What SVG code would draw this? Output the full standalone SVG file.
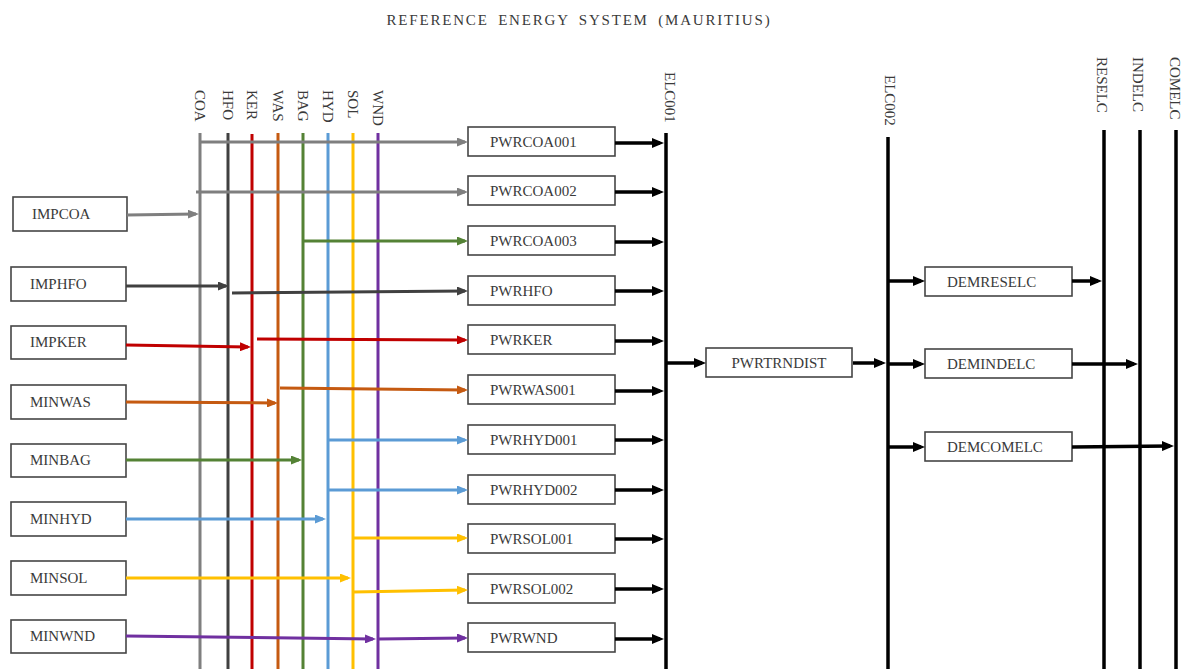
<svg xmlns="http://www.w3.org/2000/svg" width="1184" height="669" viewBox="0 0 1184 669">
<style>
  text { font-family: "Liberation Serif", "Times New Roman", serif; font-size: 15px; fill: #3a3a3a; }
  .title { font-size: 15px; letter-spacing: 1.8px; word-spacing: 4px; }
  .box { fill: #fff; stroke: #454545; stroke-width: 1.6; }
  .bus { stroke-width: 3; fill: none; }
  .kbus { stroke: #000; stroke-width: 3.5; fill: none; }
  .c { stroke-width: 3; fill: none; }
  .k { stroke: #000; stroke-width: 3.5; fill: none; marker-end: url(#ak); }
  .coa { stroke: #7f7f7f; } .hfo { stroke: #404040; } .ker { stroke: #c00000; } .was { stroke: #c55a11; }
  .bag { stroke: #548235; } .hyd { stroke: #5b9bd5; } .sol { stroke: #ffc000; } .wnd { stroke: #7030a0; }
</style>
<defs>
  <marker id="ak" markerUnits="userSpaceOnUse" markerWidth="12" markerHeight="10" refX="8" refY="5" orient="auto"><path d="M0,0 L12,5 L0,10 z" fill="#000"/></marker>
  <marker id="acoa" markerUnits="userSpaceOnUse" markerWidth="11" markerHeight="9" refX="8" refY="4.5" orient="auto"><path d="M0,0 L11,4.5 L0,9 z" fill="#7f7f7f"/></marker>
  <marker id="ahfo" markerUnits="userSpaceOnUse" markerWidth="11" markerHeight="9" refX="8" refY="4.5" orient="auto"><path d="M0,0 L11,4.5 L0,9 z" fill="#404040"/></marker>
  <marker id="aker" markerUnits="userSpaceOnUse" markerWidth="11" markerHeight="9" refX="8" refY="4.5" orient="auto"><path d="M0,0 L11,4.5 L0,9 z" fill="#c00000"/></marker>
  <marker id="awas" markerUnits="userSpaceOnUse" markerWidth="11" markerHeight="9" refX="8" refY="4.5" orient="auto"><path d="M0,0 L11,4.5 L0,9 z" fill="#c55a11"/></marker>
  <marker id="abag" markerUnits="userSpaceOnUse" markerWidth="11" markerHeight="9" refX="8" refY="4.5" orient="auto"><path d="M0,0 L11,4.5 L0,9 z" fill="#548235"/></marker>
  <marker id="ahyd" markerUnits="userSpaceOnUse" markerWidth="11" markerHeight="9" refX="8" refY="4.5" orient="auto"><path d="M0,0 L11,4.5 L0,9 z" fill="#5b9bd5"/></marker>
  <marker id="asol" markerUnits="userSpaceOnUse" markerWidth="11" markerHeight="9" refX="8" refY="4.5" orient="auto"><path d="M0,0 L11,4.5 L0,9 z" fill="#ffc000"/></marker>
  <marker id="awnd" markerUnits="userSpaceOnUse" markerWidth="11" markerHeight="9" refX="8" refY="4.5" orient="auto"><path d="M0,0 L11,4.5 L0,9 z" fill="#7030a0"/></marker>
</defs>
<rect width="1184" height="669" fill="#fff"/>
<text class="title" x="579" y="25" text-anchor="middle">REFERENCE  ENERGY  SYSTEM  (MAURITIUS)</text>

<!-- commodity buses -->
<g id="bus-COA"><line class="bus coa" x1="200" y1="133" x2="200" y2="669"/><text transform="translate(195,90) rotate(90)">COA</text></g>
<g id="bus-HFO"><line class="bus hfo" x1="228" y1="133" x2="228" y2="669"/><text transform="translate(223,90) rotate(90)">HFO</text></g>
<g id="bus-KER"><line class="bus ker" x1="252" y1="134" x2="252" y2="669"/><text transform="translate(247,90) rotate(90)">KER</text></g>
<g id="bus-WAS"><line class="bus was" x1="278" y1="133" x2="278" y2="669"/><text transform="translate(273,90) rotate(90)">WAS</text></g>
<g id="bus-BAG"><line class="bus bag" x1="303" y1="133" x2="303" y2="669"/><text transform="translate(298,90) rotate(90)">BAG</text></g>
<g id="bus-HYD"><line class="bus hyd" x1="328" y1="133" x2="328" y2="669"/><text transform="translate(323,90) rotate(90)">HYD</text></g>
<g id="bus-SOL"><line class="bus sol" x1="353" y1="133" x2="353" y2="669"/><text transform="translate(348,90) rotate(90)">SOL</text></g>
<g id="bus-WND"><line class="bus wnd" x1="378" y1="133" x2="378" y2="669"/><text transform="translate(373,90) rotate(90)">WND</text></g>
<g id="bus-ELC001"><line class="kbus" x1="666" y1="133" x2="666" y2="669"/><text transform="translate(665,72) rotate(90)">ELC001</text></g>
<g id="bus-ELC002"><line class="kbus" x1="888" y1="137" x2="888" y2="669"/><text transform="translate(885,75) rotate(90)">ELC002</text></g>
<g id="bus-RESELC"><line class="kbus" x1="1104" y1="130" x2="1104" y2="669"/><text transform="translate(1097,57) rotate(90)">RESELC</text></g>
<g id="bus-INDELC"><line class="kbus" x1="1140" y1="130" x2="1140" y2="669"/><text transform="translate(1133,57) rotate(90)">INDELC</text></g>
<g id="bus-COMELC"><line class="kbus" x1="1176" y1="130" x2="1176" y2="669"/><text transform="translate(1170,57) rotate(90)">COMELC</text></g>

<!-- left supply nodes -->
<g id="IMPCOA"><rect class="box" x="13" y="197" width="114" height="34"/><text x="32" y="219">IMPCOA</text></g>
<g id="IMPHFO"><rect class="box" x="11" y="267" width="115" height="34"/><text x="30" y="289">IMPHFO</text></g>
<g id="IMPKER"><rect class="box" x="11" y="326" width="115" height="33"/><text x="30" y="347">IMPKER</text></g>
<g id="MINWAS"><rect class="box" x="11" y="385" width="115" height="34"/><text x="30" y="407">MINWAS</text></g>
<g id="MINBAG"><rect class="box" x="11" y="444" width="115" height="33"/><text x="30" y="465">MINBAG</text></g>
<g id="MINHYD"><rect class="box" x="11" y="502" width="115" height="34"/><text x="30" y="524">MINHYD</text></g>
<g id="MINSOL"><rect class="box" x="11" y="561" width="115" height="34"/><text x="30" y="583">MINSOL</text></g>
<g id="MINWND"><rect class="box" x="11" y="620" width="115" height="33"/><text x="30" y="641">MINWND</text></g>

<!-- power plants -->
<g id="PWRCOA001"><rect class="box" x="468" y="127" width="147" height="29"/><text x="490" y="147">PWRCOA001</text></g>
<g id="PWRCOA002"><rect class="box" x="468" y="176" width="147" height="29"/><text x="490" y="196">PWRCOA002</text></g>
<g id="PWRCOA003"><rect class="box" x="468" y="226" width="147" height="29"/><text x="490" y="246">PWRCOA003</text></g>
<g id="PWRHFO"><rect class="box" x="468" y="276" width="147" height="29"/><text x="490" y="296">PWRHFO</text></g>
<g id="PWRKER"><rect class="box" x="468" y="325" width="147" height="29"/><text x="490" y="345">PWRKER</text></g>
<g id="PWRWAS001"><rect class="box" x="468" y="375" width="147" height="29"/><text x="490" y="395">PWRWAS001</text></g>
<g id="PWRHYD001"><rect class="box" x="468" y="425" width="147" height="29"/><text x="490" y="445">PWRHYD001</text></g>
<g id="PWRHYD002"><rect class="box" x="468" y="475" width="147" height="29"/><text x="490" y="495">PWRHYD002</text></g>
<g id="PWRSOL001"><rect class="box" x="468" y="524" width="147" height="29"/><text x="490" y="544">PWRSOL001</text></g>
<g id="PWRSOL002"><rect class="box" x="468" y="574" width="147" height="29"/><text x="490" y="594">PWRSOL002</text></g>
<g id="PWRWND"><rect class="box" x="468" y="623" width="147" height="29"/><text x="490" y="643">PWRWND</text></g>

<g id="PWRTRNDIST"><rect class="box" x="706" y="348" width="146" height="29"/><text x="779" y="368" text-anchor="middle">PWRTRNDIST</text></g>

<g id="DEMRESELC"><rect class="box" x="925" y="267" width="147" height="29"/><text x="947" y="287">DEMRESELC</text></g>
<g id="DEMINDELC"><rect class="box" x="925" y="349" width="147" height="29"/><text x="947" y="369">DEMINDELC</text></g>
<g id="DEMCOMELC"><rect class="box" x="925" y="432" width="147" height="29"/><text x="947" y="452">DEMCOMELC</text></g>

<!-- connectors -->
<g id="connectors">
  <line class="c coa" x1="127" y1="215" x2="196" y2="214" marker-end="url(#acoa)"/>
  <line class="c coa" x1="200" y1="142" x2="465" y2="142" marker-end="url(#acoa)"/>
  <line class="c coa" x1="196" y1="192" x2="465" y2="192" marker-end="url(#acoa)"/>
  <line class="c bag" x1="303" y1="241" x2="465" y2="241" marker-end="url(#abag)"/>
  <line class="c hfo" x1="126" y1="286" x2="226" y2="286" marker-end="url(#ahfo)"/>
  <line class="c hfo" x1="232" y1="293" x2="465" y2="291" marker-end="url(#ahfo)"/>
  <line class="c ker" x1="126" y1="345" x2="248" y2="347" marker-end="url(#aker)"/>
  <line class="c ker" x1="257" y1="339" x2="465" y2="340" marker-end="url(#aker)"/>
  <line class="c was" x1="126" y1="402" x2="275" y2="403" marker-end="url(#awas)"/>
  <line class="c was" x1="280" y1="388" x2="465" y2="390" marker-end="url(#awas)"/>
  <line class="c bag" x1="126" y1="460" x2="299" y2="460" marker-end="url(#abag)"/>
  <line class="c hyd" x1="328" y1="440" x2="465" y2="440" marker-end="url(#ahyd)"/>
  <line class="c hyd" x1="328" y1="490" x2="465" y2="490" marker-end="url(#ahyd)"/>
  <line class="c hyd" x1="126" y1="519" x2="323" y2="519" marker-end="url(#ahyd)"/>
  <line class="c sol" x1="353" y1="538" x2="465" y2="538" marker-end="url(#asol)"/>
  <line class="c sol" x1="126" y1="578" x2="348" y2="578" marker-end="url(#asol)"/>
  <line class="c sol" x1="353" y1="592" x2="465" y2="590" marker-end="url(#asol)"/>
  <line class="c wnd" x1="126" y1="636" x2="373" y2="639" marker-end="url(#awnd)"/>
  <line class="c wnd" x1="378" y1="639" x2="465" y2="638" marker-end="url(#awnd)"/>

  <line class="k" x1="615" y1="143" x2="660" y2="143"/>
  <line class="k" x1="615" y1="192" x2="660" y2="192"/>
  <line class="k" x1="615" y1="242" x2="660" y2="242"/>
  <line class="k" x1="615" y1="291" x2="660" y2="291"/>
  <line class="k" x1="615" y1="341" x2="660" y2="341"/>
  <line class="k" x1="615" y1="391" x2="660" y2="391"/>
  <line class="k" x1="615" y1="440" x2="660" y2="440"/>
  <line class="k" x1="615" y1="490" x2="660" y2="490"/>
  <line class="k" x1="615" y1="539" x2="660" y2="539"/>
  <line class="k" x1="615" y1="589" x2="660" y2="589"/>
  <line class="k" x1="615" y1="639" x2="660" y2="639"/>

  <line class="k" x1="666" y1="363" x2="702" y2="363"/>
  <line class="k" x1="853" y1="363" x2="882" y2="363"/>
  <line class="k" x1="888" y1="281" x2="921" y2="281"/>
  <line class="k" x1="888" y1="364" x2="921" y2="364"/>
  <line class="k" x1="888" y1="447" x2="921" y2="447"/>
  <line class="k" x1="1072" y1="281" x2="1098" y2="281"/>
  <line class="k" x1="1072" y1="364" x2="1134" y2="364"/>
  <line class="k" x1="1072" y1="447" x2="1170" y2="446"/>
</g>
</svg>
